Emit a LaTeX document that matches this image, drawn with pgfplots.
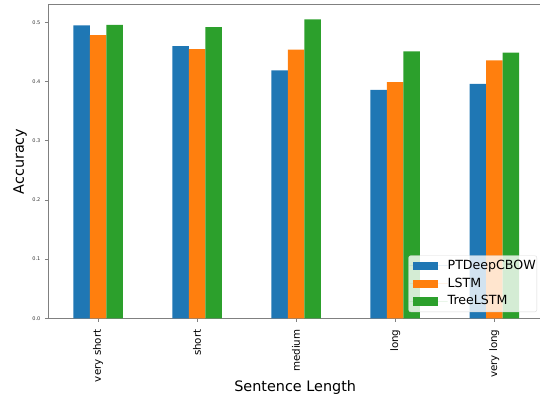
\documentclass[border=0pt]{standalone}
\usepackage{pgfplots}
\pgfplotsset{compat=1.18}
\usepackage{fontspec}
\setmainfont{DejaVu Sans}
\definecolor{tabblue}{HTML}{1F77B4}
\definecolor{taborange}{HTML}{FF7F0E}
\definecolor{tabgreen}{HTML}{2CA02C}
\definecolor{spine}{HTML}{808080}
\begin{document}
\begin{tikzpicture}
\begin{axis}[
  name=ax,
  scale only axis,
  width=495.3pt, height=313.6pt,
  xmin=-0.5, xmax=4.5,
  ymin=0, ymax=0.53,
  xtick={0,1,2,3,4},
  xticklabels={very short,short,medium,long,very long},
  ytick={0,0.1,0.2,0.3,0.4,0.5},
  yticklabels={0.0,0.1,0.2,0.3,0.4,0.5},
  tick align=outside,
  major tick length=3.5pt,
  tick style={spine, line width=0.6pt},
  axis line style={spine, line width=0.8pt},
  xtick pos=bottom, ytick pos=left,
  /pgf/number format/assume math mode=true,
  yticklabel style={font=\fontsize{5}{6}\selectfont, text=black!80, inner sep=0pt, anchor=east, xshift=-4.5pt},
  xticklabel style={font=\fontsize{10.3}{12}\selectfont, rotate=90, anchor=east, inner sep=0pt, yshift=0pt, xshift=-7.5pt},
  xlabel={Sentence Length},
  ylabel={Accuracy},
  xlabel style={font=\fontsize{14.4}{17}\selectfont, at={(axis description cs:0.498,-0.222)}, anchor=center},
  ylabel style={font=\fontsize{14.4}{17}\selectfont, at={(axis description cs:-0.0575,0.5)}, anchor=center},
  legend cell align=left,
  legend style={at={(axis description cs:1,0)}, anchor=south east, xshift=-6.8pt, yshift=6.3pt,
    font=\fontsize{12.6}{15}\selectfont, fill=white, fill opacity=0.8, text opacity=1,
    draw=black!15, rounded corners=2pt, inner xsep=1pt, inner ysep=4pt, row sep=5.3pt,
    nodes={inner sep=0pt, text height=9.5pt, text depth=3pt}},
  legend image code/.code={\path (-3pt,0pt) -- (35pt,0pt);\fill[#1, fill opacity=1, sharp corners] (0pt,-4.2pt) rectangle (25pt,4.2pt);},
]
\addplot[ybar, bar width=0.16667, bar shift=-0.16667, fill=tabblue, draw=none]
  coordinates {(0,0.495) (1,0.460) (2,0.419) (3,0.386) (4,0.396)};
\addplot[ybar, bar width=0.16667, bar shift=0, fill=taborange, draw=none]
  coordinates {(0,0.4786) (1,0.455) (2,0.454) (3,0.399) (4,0.436)};
\addplot[ybar, bar width=0.16667, bar shift=0.16667, fill=tabgreen, draw=none]
  coordinates {(0,0.496) (1,0.492) (2,0.505) (3,0.451) (4,0.449)};
\legend{PTDeepCBOW,LSTM,TreeLSTM}
\end{axis}
\pgfresetboundingbox
\path[use as bounding box] ([xshift=-48.5pt,yshift=-77.7pt]ax.south west) rectangle ([xshift=491.5pt,yshift=4.7pt]ax.north west);
\end{tikzpicture}
\end{document}
